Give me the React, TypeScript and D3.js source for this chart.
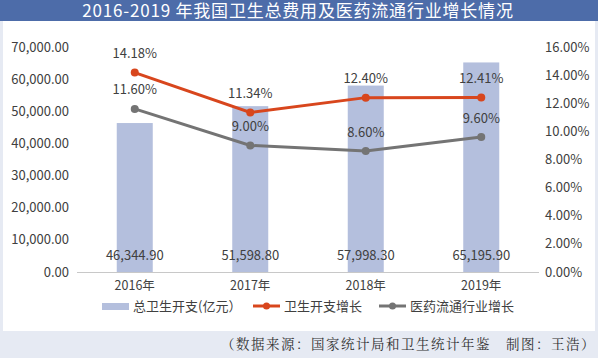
import React from "react";
import * as d3 from "d3";

const years = ["2016年", "2017年", "2018年", "2019年"];
const totalSpend = [46344.9, 51598.8, 57998.3, 65195.9];
const spendGrowth = [14.18, 11.34, 12.4, 12.41];
const pharmaGrowth = [11.6, 9.0, 8.6, 9.6];
const leftTicks = [0, 10000, 20000, 30000, 40000, 50000, 60000, 70000];
const rightTicks = [0, 2, 4, 6, 8, 10, 12, 14, 16];

const title = "2016-2019 年我国卫生总费用及医药流通行业增长情况";
const source = "（数据来源：国家统计局和卫生统计年鉴　制图：王浩）";

const W = 598;
const H = 358;
const font = "'Noto Sans CJK SC', 'Noto Sans', sans-serif";
const txt = "#404040";
const barColor = "#b4bfdd";
const red = "#d8461d";
const gray = "#747474";

export default function App() {
  const svgRef = React.useRef<SVGSVGElement>(null);

  React.useEffect(() => {
    const svg = d3.select(svgRef.current);
    svg.selectAll("*").remove();

    // background pieces
    svg.append("rect").attr("width", W).attr("height", H).attr("fill", "#e6eaf3");
    svg.append("rect").attr("x", 3).attr("y", 20).attr("width", W - 6).attr("height", 311).attr("fill", "#ffffff");
    svg.append("rect").attr("width", W).attr("height", 21).attr("fill", "#4d6ca9");
    svg
      .append("text")
      .attr("x", 298)
      .attr("y", 11)
      .attr("dy", "0.36em")
      .attr("text-anchor", "middle")
      .attr("fill", "#ffffff")
      .style("font-family", font)
      .style("font-size", "17px")
      .style("letter-spacing", "0.8px")
      .text(title);

    // scales
    const x = d3.scaleBand().domain(years).range([77, 539]);
    const yL = d3.scaleLinear().domain([0, 70000]).range([272, 47]);
    const yR = d3.scaleLinear().domain([0, 16]).range([272, 47]);
    const barW = 36;

    // left axis labels
    svg
      .append("g")
      .selectAll("text")
      .data(leftTicks)
      .join("text")
      .attr("x", 69)
      .attr("y", (d) => yL(d))
      .attr("dy", "0.35em")
      .attr("text-anchor", "end")
      .attr("fill", txt)
      .style("font-family", font)
      .style("font-size", "13px")
      .text((d) => d3.format(",.2f")(d));

    // right axis labels
    svg
      .append("g")
      .selectAll("text")
      .data(rightTicks)
      .join("text")
      .attr("x", 545)
      .attr("y", (d) => yR(d))
      .attr("dy", "0.35em")
      .attr("fill", txt)
      .style("font-family", font)
      .style("font-size", "13px")
      .text((d) => d.toFixed(2) + "%");

    // bars
    svg
      .append("g")
      .selectAll("rect")
      .data(totalSpend)
      .join("rect")
      .attr("x", (d, i) => x(years[i])! + x.bandwidth() / 2 - barW / 2)
      .attr("y", (d) => yL(d))
      .attr("width", barW)
      .attr("height", (d) => yL(0) - yL(d))
      .attr("fill", barColor);

    // baseline
    svg
      .append("line")
      .attr("x1", 77)
      .attr("x2", 539)
      .attr("y1", yL(0) + 0.5)
      .attr("y2", yL(0) + 0.5)
      .attr("stroke", "#c8c8c8")
      .attr("stroke-width", 1);

    // x labels
    svg
      .append("g")
      .selectAll("text")
      .data(years)
      .join("text")
      .attr("x", (d) => x(d)! + x.bandwidth() / 2)
      .attr("y", 286)
      .attr("dy", "0.35em")
      .attr("text-anchor", "middle")
      .attr("fill", txt)
      .style("font-family", font)
      .style("font-size", "12.5px")
      .text((d) => d);

    // bar value labels
    svg
      .append("g")
      .selectAll("text")
      .data(totalSpend)
      .join("text")
      .attr("x", (d, i) => x(years[i])! + x.bandwidth() / 2)
      .attr("y", 255)
      .attr("dy", "0.35em")
      .attr("text-anchor", "middle")
      .attr("fill", txt)
      .style("font-family", font)
      .style("font-size", "13px")
      .text((d) => d3.format(",.2f")(d));

    // lines
    const cx = (i: number) => x(years[i])! + x.bandwidth() / 2;
    const line = d3
      .line<number>()
      .x((d, i) => cx(i))
      .y((d) => yR(d));

    const series = [
      { values: pharmaGrowth, color: gray },
      { values: spendGrowth, color: red },
    ];
    series.forEach((s) => {
      svg
        .append("path")
        .datum(s.values)
        .attr("d", line)
        .attr("fill", "none")
        .attr("stroke", s.color)
        .attr("stroke-width", 3);
      svg
        .append("g")
        .selectAll("circle")
        .data(s.values)
        .join("circle")
        .attr("cx", (d, i) => cx(i))
        .attr("cy", (d) => yR(d))
        .attr("r", 4)
        .attr("fill", s.color);
      svg
        .append("g")
        .selectAll("text")
        .data(s.values)
        .join("text")
        .attr("x", (d, i) => cx(i))
        .attr("y", (d) => yR(d) - 19)
        .attr("dy", "0.35em")
        .attr("text-anchor", "middle")
        .attr("fill", txt)
        .style("font-family", font)
        .style("font-size", "13px")
        .text((d) => d.toFixed(2) + "%");
    });

    // legend
    const lg = svg.append("g").style("font-family", font).style("font-size", "13px");
    lg.append("rect").attr("x", 102).attr("y", 303).attr("width", 27).attr("height", 7).attr("fill", barColor);
    lg.append("text").attr("x", 133).attr("y", 306).attr("dy", "0.35em").attr("fill", txt).text("总卫生开支(亿元）");
    const legendLines = [
      { x0: 253, label: "卫生开支增长", color: red },
      { x0: 379, label: "医药流通行业增长", color: gray },
    ];
    legendLines.forEach((l) => {
      lg.append("line").attr("x1", l.x0).attr("x2", l.x0 + 27).attr("y1", 306).attr("y2", 306).attr("stroke", l.color).attr("stroke-width", 3);
      lg.append("circle").attr("cx", l.x0 + 13.5).attr("cy", 306).attr("r", 3.5).attr("fill", l.color);
      lg.append("text").attr("x", l.x0 + 31).attr("y", 306).attr("dy", "0.35em").attr("fill", txt).text(l.label);
    });

    // source
    svg
      .append("text")
      .attr("x", W - 2)
      .attr("y", 344)
      .attr("dy", "0.35em")
      .attr("text-anchor", "end")
      .attr("fill", "#333333")
      .style("font-family", "'Noto Serif CJK SC', 'Noto Sans CJK SC', serif")
      .style("font-size", "13.5px")
      .style("letter-spacing", "1.5px")
      .text(source);
  }, []);

  return (
    <svg
      ref={svgRef}
      width={W}
      height={H}
      style={{ position: "absolute", left: 0, top: 0, display: "block" }}
    />
  );
}
